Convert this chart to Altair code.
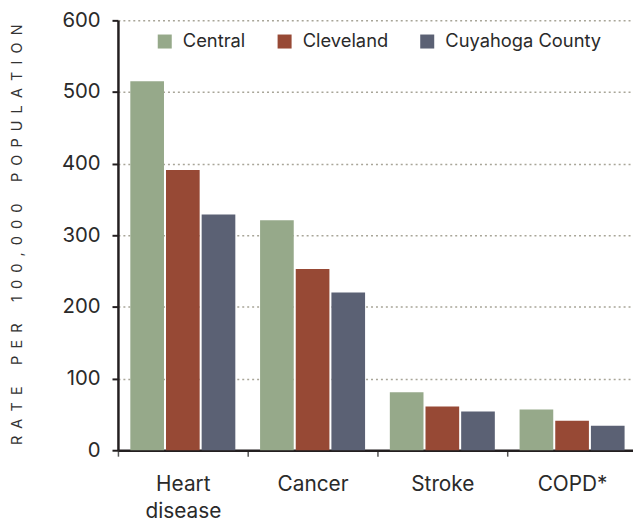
import altair as alt
import pandas as pd

categories = ["Heart disease", "Cancer", "Stroke", "COPD*"]
series = ["Central", "Cleveland", "Cuyahoga County"]
central = [515, 321, 81, 57]
cleveland = [391, 253, 61, 41]
cuyahoga = [329, 220, 54, 34]
colors = ["#96a98a", "#974935", "#5b6174"]
y_ticks = [0, 100, 200, 300, 400, 500, 600]
y_title = "RATE PER 100,000 POPULATION"

rows = []
for name, vals in zip(series, [central, cleveland, cuyahoga]):
    for c, v in zip(categories, vals):
        rows.append({"cause": c, "area": name, "rate": v})
df = pd.DataFrame(rows)

spaced_title = "\u2002".join("\u2002" if ch == " " else ch for ch in y_title)

FONT = "Inter"

chart = alt.Chart(df).mark_bar().encode(
    x=alt.X("cause:N", sort=categories, title=None,
            scale=alt.Scale(paddingInner=0, paddingOuter=0, range=[0, 524]),
            axis=alt.Axis(labelAngle=0, tickBand="extent", tickSize=6,
                          tickColor="#555555", tickWidth=1.5,
                          domainColor="#231f20", domainWidth=2.5,
                          labelPadding=18, labelFontSize=21,
                          labelLineHeight=27, labelColor="#2a2a2a",
                          labelFont=FONT,
                          labelExpr="datum.value == 'Heart disease' ? ['Heart', 'disease'] : datum.label")),
    xOffset=alt.XOffset("area:N", sort=series,
                        scale=alt.Scale(paddingInner=0.056, paddingOuter=0.347)),
    y=alt.Y("rate:Q", title=spaced_title,
            scale=alt.Scale(domain=[0, 600], nice=False),
            axis=alt.Axis(values=y_ticks, tickSize=6, tickColor="#231f20",
                          tickWidth=2, domainColor="#231f20", domainWidth=2.5,
                          labelPadding=12, labelFontSize=20.5, labelColor="#2a2a2a",
                          labelFont=FONT,
                          grid=True, gridColor="#a8a598", gridDash=[2, 3],
                          gridWidth=1.5,
                          titleFont=FONT, titleFontSize=14.5, titleFontWeight="normal",
                          titleColor="#333333", titleAngle=270,
                          titleX=-101, titleY=216, titleAlign="center",
                          titleBaseline="middle")),
    color=alt.Color("area:N", sort=series,
                    scale=alt.Scale(domain=series, range=colors),
                    legend=alt.Legend(title=None, orient="none", direction="horizontal",
                                      legendX=38, legendY=12, symbolType="square",
                                      symbolSize=200, symbolStrokeWidth=0,
                                      symbolOpacity=1, labelLimit=300,
                                      labelFontSize=18.5, labelFont=FONT,
                                      labelColor="#2a2a2a", labelOffset=9,
                                      columnPadding=30, padding=0)),
).properties(
    width=518, height=434,
    autosize=alt.AutoSizeParams(type="none"),
    padding={"left": 111, "top": 10, "right": 2, "bottom": 71},
).configure_view(stroke=None)

chart.save("out.html", embed_options={"renderer": "svg", "actions": False})
